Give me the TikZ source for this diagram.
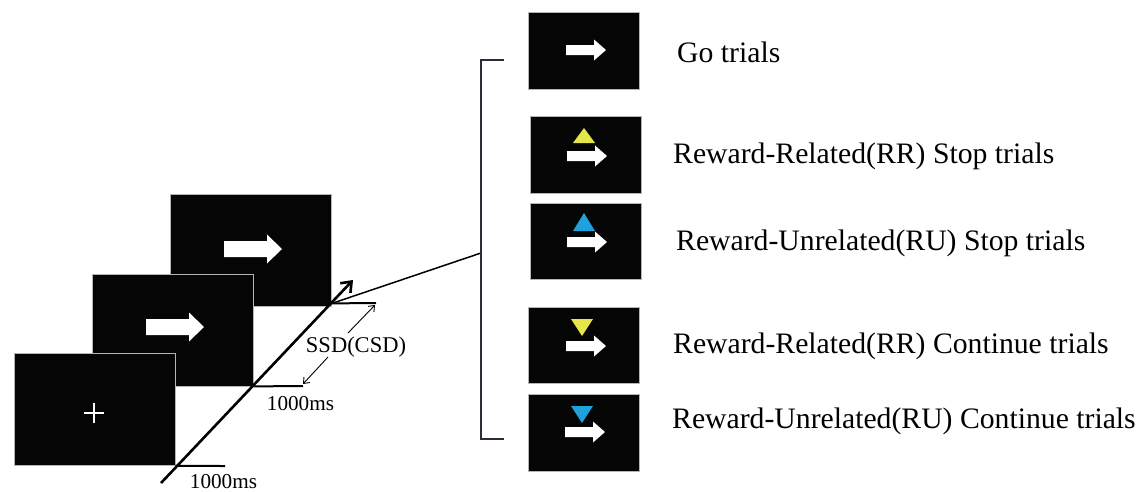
\documentclass[tikz,border=0pt]{standalone}
\usepackage{fontspec}
\setmainfont{Liberation Serif}
\usetikzlibrary{arrows.meta}
\definecolor{scrfill}{HTML}{050505}
\definecolor{scredge}{HTML}{B4B4B4}
\definecolor{cueyellow}{HTML}{E6E64C}
\definecolor{cueblue}{HTML}{1FA2DC}
\definecolor{brk}{HTML}{2A2E38}
\tikzset{
  screen/.style={draw=scredge, line width=0.8pt, fill=scrfill, inner sep=0pt},
  bigscreen/.style={screen, minimum width=161pt, minimum height=112pt},
  smallscreen/.style={screen, minimum width=111pt, minimum height=77pt},
  lbl/.style={anchor=base west, inner sep=0pt, font=\fontsize{29.7}{32}\selectfont},
  mslbl/.style={anchor=base, inner sep=0pt, font=\fontsize{21.2}{24}\selectfont},
  tick/.style={line width=2pt},
  timeline/.style={line width=2.6pt, -{Straight Barb[length=9pt,width=14pt,line width=2.6pt]}},
  ssdarrow/.style={line width=0.9pt, -{Straight Barb[length=5pt,width=8pt]}},
  bigarr/.pic={\fill[white] (0,-8)--(43,-8)--(43,-14.5)--(58,0)--(43,14.5)--(43,8)--(0,8)--cycle;},
  smallarr/.pic={\fill[white] (0,-5)--(28,-5)--(28,-10.5)--(40,0)--(28,10.5)--(28,5)--(0,5)--cycle;}
}
\begin{document}
\begin{tikzpicture}[x=1pt,y=-1pt]
\useasboundingbox (0,0) rectangle (1138,491);
% left stack of screens
\node[bigscreen] (s3) at (251,250) {};
\pic at (224,249) {bigarr};
\node[bigscreen] (s2) at (173,330) {};
\pic at (146,327) {bigarr};
\node[bigscreen] (s1) at (94.5,409.5) {};
\draw[white, line width=2.5pt] (84,413) -- (104,413) (94,403) -- (94,423);
% timeline
\coordinate (tstart) at (161,483);
\coordinate (tend) at (353,280);
\draw[timeline] (tstart) -- (tend);
\coordinate (t1) at (225,466);
\coordinate (t2) at (303,386);
\coordinate (t3) at (376,303);
\draw[tick] (s1.south east) -- (t1);
\draw[tick] (s2.south east) -- (t2);
\draw[tick] ([yshift=3pt]s3.south east) -- (t3);
\node[mslbl] (ms1) at (223.5,488) {1000ms};
\node[mslbl] (ms2) at (300.5,410) {1000ms};
\node[inner sep=0pt, font=\fontsize{22.5}{24}\selectfont] (ssd) at (356,347) {SSD(CSD)};
\coordinate (ssdlo) at (303,384);
\coordinate (ssdhi) at (375,305);
\draw[ssdarrow] (328,357) -- (ssdlo);
\draw[ssdarrow] (348,333) -- (ssdhi);
% bracket
\coordinate (bj) at (481,253);
\coordinate (btop) at (481,60);
\coordinate (bbot) at (481,439);
\draw[line width=1.5pt] ([yshift=3pt]s3.south east) -- (bj);
\draw[brk, line width=2.2pt] (504,60) -- (btop) -- (bbot) -- (504,439);
% right screens
\node[smallscreen] (r1) at (583.5,50.5) {};
\pic at (566,50) {smallarr};
\node[smallscreen] (r2) at (585.5,154.5) {};
\fill[cueyellow] (584,128) -- (573,143) -- (595,143) -- cycle;
\pic at (567,156) {smallarr};
\node[smallscreen, minimum height=76pt] (r3) at (585.5,241) {};
\fill[cueblue] (584,213) -- (573,231) -- (595,231) -- cycle;
\pic at (567,242) {smallarr};
\node[smallscreen, minimum height=76pt] (r4) at (583.5,345) {};
\fill[cueyellow] (571,319) -- (593,319) -- (582,336) -- cycle;
\pic at (566,346) {smallarr};
\node[smallscreen] (r5) at (583.5,432.5) {};
\fill[cueblue] (571,406) -- (593,406) -- (582,423) -- cycle;
\pic at (565,432) {smallarr};
% labels
\node[lbl] (l1) at (677,62) {Go trials};
\node[lbl] (l2) at (673,163) {Reward-Related(RR) Stop trials};
\node[lbl] (l3) at (676,250) {Reward-Unrelated(RU) Stop trials};
\node[lbl] (l4) at (673,353) {Reward-Related(RR) Continue trials};
\node[lbl] (l5) at (672,428) {Reward-Unrelated(RU) Continue trials};
\end{tikzpicture}
\end{document}
